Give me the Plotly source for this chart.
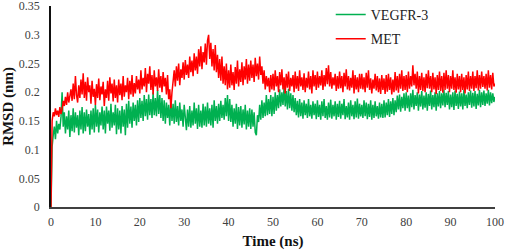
import plotly.graph_objects as go

time_step_ns = 0.25  # sampling interval of the series below (ns)

met_rmsd = [
    0.000, 0.150, 0.165, 0.158, 0.172, 0.160, 0.168, 0.157, 0.174, 0.162,
    0.170, 0.185, 0.176, 0.192, 0.178, 0.200, 0.182, 0.195, 0.205, 0.185,
    0.215, 0.188, 0.228, 0.195, 0.182, 0.212, 0.190, 0.222, 0.196, 0.233,
    0.190, 0.218, 0.185, 0.226, 0.200, 0.212, 0.180, 0.220, 0.192, 0.206,
    0.178, 0.214, 0.190, 0.224, 0.186, 0.210, 0.196, 0.218, 0.176, 0.205,
    0.190, 0.220, 0.185, 0.226, 0.198, 0.215, 0.184, 0.222, 0.190, 0.212,
    0.182, 0.222, 0.195, 0.215, 0.186, 0.228, 0.192, 0.212, 0.200, 0.225,
    0.188, 0.220, 0.196, 0.230, 0.192, 0.216, 0.198, 0.228, 0.205, 0.222,
    0.198, 0.238, 0.205, 0.225, 0.210, 0.242, 0.200, 0.232, 0.215, 0.245,
    0.204, 0.230, 0.196, 0.238, 0.210, 0.226, 0.202, 0.240, 0.208, 0.228,
    0.200, 0.235, 0.210, 0.225, 0.196, 0.230, 0.188, 0.205, 0.172, 0.200,
    0.215, 0.238, 0.210, 0.245, 0.220, 0.250, 0.212, 0.240, 0.225, 0.252,
    0.222, 0.256, 0.230, 0.248, 0.225, 0.262, 0.235, 0.255, 0.228, 0.268,
    0.238, 0.262, 0.232, 0.275, 0.245, 0.280, 0.240, 0.270, 0.252, 0.285,
    0.248, 0.290, 0.300, 0.258, 0.286, 0.245, 0.275, 0.238, 0.282, 0.235,
    0.265, 0.225, 0.258, 0.220, 0.262, 0.215, 0.245, 0.212, 0.250, 0.205,
    0.238, 0.208, 0.248, 0.212, 0.235, 0.204, 0.244, 0.215, 0.255, 0.210,
    0.240, 0.218, 0.252, 0.212, 0.245, 0.222, 0.258, 0.215, 0.248, 0.220,
    0.255, 0.225, 0.248, 0.218, 0.260, 0.228, 0.250, 0.222, 0.262, 0.230,
    0.245, 0.215, 0.238, 0.205, 0.228, 0.210, 0.225, 0.200, 0.230, 0.205,
    0.232, 0.203, 0.238, 0.210, 0.228, 0.200, 0.235, 0.212, 0.240, 0.205,
    0.226, 0.198, 0.232, 0.208, 0.236, 0.202, 0.225, 0.210, 0.230, 0.200,
    0.236, 0.206, 0.228, 0.202, 0.238, 0.210, 0.226, 0.204, 0.233, 0.200,
    0.225, 0.208, 0.236, 0.205, 0.228, 0.198, 0.238, 0.210, 0.230, 0.204,
    0.236, 0.208, 0.228, 0.212, 0.238, 0.204, 0.230, 0.210, 0.242, 0.214,
    0.247, 0.210, 0.235, 0.206, 0.226, 0.212, 0.232, 0.202, 0.228, 0.206,
    0.236, 0.207, 0.228, 0.200, 0.234, 0.210, 0.240, 0.205, 0.228, 0.203,
    0.225, 0.208, 0.238, 0.198, 0.230, 0.205, 0.226, 0.200, 0.232, 0.206,
    0.232, 0.205, 0.226, 0.200, 0.234, 0.208, 0.238, 0.204, 0.224, 0.198,
    0.222, 0.206, 0.232, 0.203, 0.228, 0.200, 0.224, 0.197, 0.230, 0.204,
    0.224, 0.197, 0.230, 0.201, 0.232, 0.204, 0.226, 0.196, 0.222, 0.200,
    0.235, 0.203, 0.228, 0.199, 0.232, 0.206, 0.238, 0.202, 0.228, 0.204,
    0.230, 0.200, 0.236, 0.206, 0.228, 0.210, 0.247, 0.212, 0.232, 0.206,
    0.236, 0.198, 0.228, 0.204, 0.234, 0.202, 0.226, 0.200, 0.232, 0.207,
    0.238, 0.206, 0.228, 0.200, 0.234, 0.205, 0.226, 0.197, 0.230, 0.204,
    0.236, 0.202, 0.228, 0.199, 0.234, 0.204, 0.238, 0.206, 0.230, 0.200,
    0.228, 0.206, 0.238, 0.204, 0.226, 0.199, 0.232, 0.205, 0.228, 0.200,
    0.232, 0.204, 0.226, 0.198, 0.230, 0.205, 0.236, 0.202, 0.228, 0.206,
    0.236, 0.202, 0.228, 0.207, 0.238, 0.203, 0.230, 0.206, 0.236, 0.209,
    0.228, 0.206, 0.232, 0.203, 0.238, 0.208, 0.230, 0.205, 0.234, 0.210,
    0.215,
]

vegfr3_rmsd = [
    0.000, 0.105, 0.125, 0.140, 0.118, 0.150, 0.128, 0.145, 0.135, 0.157,
    0.200, 0.140, 0.165, 0.128, 0.158, 0.135, 0.168, 0.122, 0.160, 0.132,
    0.172, 0.130, 0.165, 0.138, 0.160, 0.125, 0.168, 0.135, 0.174, 0.128,
    0.165, 0.132, 0.170, 0.140, 0.162, 0.126, 0.168, 0.135, 0.172, 0.130,
    0.178, 0.140, 0.170, 0.130, 0.165, 0.142, 0.175, 0.135, 0.168, 0.128,
    0.175, 0.145, 0.168, 0.133, 0.180, 0.138, 0.165, 0.142, 0.178, 0.127,
    0.172, 0.135, 0.168, 0.128, 0.176, 0.140, 0.170, 0.125, 0.180, 0.138,
    0.185, 0.145, 0.175, 0.138, 0.182, 0.150, 0.178, 0.142, 0.186, 0.148,
    0.190, 0.155, 0.185, 0.150, 0.195, 0.158, 0.188, 0.152, 0.196, 0.160,
    0.188, 0.155, 0.200, 0.160, 0.190, 0.158, 0.204, 0.162, 0.195, 0.155,
    0.190, 0.150, 0.186, 0.145, 0.182, 0.155, 0.178, 0.142, 0.186, 0.150,
    0.180, 0.145, 0.186, 0.148, 0.176, 0.142, 0.182, 0.150, 0.170, 0.140,
    0.178, 0.145, 0.134, 0.170, 0.140, 0.176, 0.138, 0.168, 0.142, 0.182,
    0.145, 0.172, 0.136, 0.178, 0.140, 0.168, 0.138, 0.180, 0.142, 0.175,
    0.140, 0.182, 0.145, 0.172, 0.142, 0.178, 0.138, 0.186, 0.150, 0.176,
    0.145, 0.180, 0.150, 0.185, 0.155, 0.178, 0.152, 0.190, 0.158, 0.195,
    0.150, 0.188, 0.148, 0.178, 0.140, 0.172, 0.145, 0.180, 0.136, 0.174,
    0.142, 0.176, 0.138, 0.170, 0.144, 0.178, 0.135, 0.168, 0.140, 0.172,
    0.136, 0.170, 0.140, 0.165, 0.130, 0.125, 0.160, 0.148, 0.178, 0.152,
    0.186, 0.155, 0.182, 0.158, 0.195, 0.160, 0.188, 0.162, 0.195, 0.158,
    0.192, 0.162, 0.200, 0.168, 0.195, 0.172, 0.205, 0.175, 0.200, 0.178,
    0.209, 0.175, 0.202, 0.170, 0.206, 0.172, 0.198, 0.168, 0.195, 0.165,
    0.190, 0.160, 0.185, 0.156, 0.188, 0.158, 0.182, 0.154, 0.186, 0.160,
    0.180, 0.155, 0.188, 0.158, 0.178, 0.154, 0.184, 0.160, 0.180, 0.153,
    0.186, 0.157, 0.178, 0.152, 0.184, 0.158, 0.188, 0.155, 0.176, 0.152,
    0.182, 0.156, 0.187, 0.154, 0.178, 0.158, 0.184, 0.152, 0.180, 0.157,
    0.185, 0.154, 0.180, 0.160, 0.188, 0.153, 0.176, 0.156, 0.182, 0.152,
    0.186, 0.158, 0.178, 0.153, 0.184, 0.156, 0.189, 0.154, 0.180, 0.158,
    0.178, 0.155, 0.186, 0.158, 0.182, 0.153, 0.180, 0.157, 0.186, 0.152,
    0.178, 0.155, 0.184, 0.158, 0.176, 0.154, 0.182, 0.156, 0.180, 0.155,
    0.186, 0.156, 0.182, 0.160, 0.188, 0.157, 0.184, 0.162, 0.190, 0.160,
    0.186, 0.165, 0.194, 0.170, 0.196, 0.166, 0.192, 0.172, 0.198, 0.168,
    0.200, 0.172, 0.194, 0.166, 0.198, 0.174, 0.204, 0.170, 0.195, 0.176,
    0.200, 0.168, 0.196, 0.175, 0.202, 0.170, 0.194, 0.173, 0.200, 0.168,
    0.197, 0.176, 0.203, 0.170, 0.195, 0.174, 0.200, 0.168, 0.198, 0.175,
    0.202, 0.172, 0.198, 0.177, 0.204, 0.174, 0.199, 0.178, 0.202, 0.170,
    0.196, 0.174, 0.200, 0.169, 0.203, 0.176, 0.197, 0.171, 0.201, 0.175,
    0.198, 0.170, 0.204, 0.176, 0.196, 0.172, 0.200, 0.178, 0.203, 0.173,
    0.199, 0.175, 0.202, 0.171, 0.197, 0.177, 0.204, 0.174, 0.200, 0.178,
    0.203, 0.176, 0.198, 0.180, 0.204, 0.177, 0.200, 0.181, 0.198, 0.183,
    0.192,
]

series_names = ["VEGFR-3", "MET"]
x_ticks = [0, 10, 20, 30, 40, 50, 60, 70, 80, 90, 100]
y_ticks = [0, 0.05, 0.1, 0.15, 0.2, 0.25, 0.3, 0.35]
y_tick_labels = ["0", "0.05", "0.1", "0.15", "0.2", "0.25", "0.3", "0.35"]

serif = "Liberation Serif, Times New Roman, serif"

fig = go.Figure()
fig.add_trace(go.Scatter(
    y=vegfr3_rmsd, x0=0, dx=time_step_ns, mode="lines", name=series_names[0],
    legendgroup="a", line=dict(color="#00B050", width=1.5),
))
fig.add_trace(go.Scatter(
    y=met_rmsd, x0=0, dx=time_step_ns, mode="lines", name=series_names[1],
    legendgroup="b", line=dict(color="#FF0000", width=1.5),
))

fig.update_layout(
    width=505, height=251,
    margin=dict(l=51, r=10, t=6, b=44, autoexpand=False),
    paper_bgcolor="white", plot_bgcolor="white",
    font=dict(family=serif, size=12, color="#404040"),
    showlegend=True,
    legend=dict(
        x=0.63, y=1.035, xanchor="left", yanchor="top",
        bgcolor="rgba(0,0,0,0)", font=dict(family=serif, size=14, color="#222222"),
        itemwidth=30, tracegroupgap=3,
    ),
    xaxis=dict(
        range=[0, 100], tickvals=x_ticks, showgrid=False, zeroline=False,
        showline=True, linecolor="#404040", linewidth=2, ticks="", automargin=False,
        ticklabeloverflow="allow", ticklabelstandoff=3,
        title=dict(text="<b>Time (ns)</b>", font=dict(family=serif, size=15, color="#111111"), standoff=7),
        tickfont=dict(family=serif, size=12, color="#404040"),
    ),
    yaxis=dict(
        range=[0, 0.3502], tickvals=y_ticks, ticktext=y_tick_labels, showgrid=False, zeroline=False,
        showline=True, linecolor="#111111", linewidth=1.5, ticks="", automargin=False,
        ticklabeloverflow="allow", ticklabelstandoff=7,
        title=dict(text="<b>RMSD (nm)</b>", font=dict(family=serif, size=15, color="#111111"), standoff=2),
        tickfont=dict(family=serif, size=12, color="#404040"),
    ),
)

fig.write_html(
    "out.html",
    config={"displayModeBar": False},
    post_script="document.body.style.margin='0';",
)
